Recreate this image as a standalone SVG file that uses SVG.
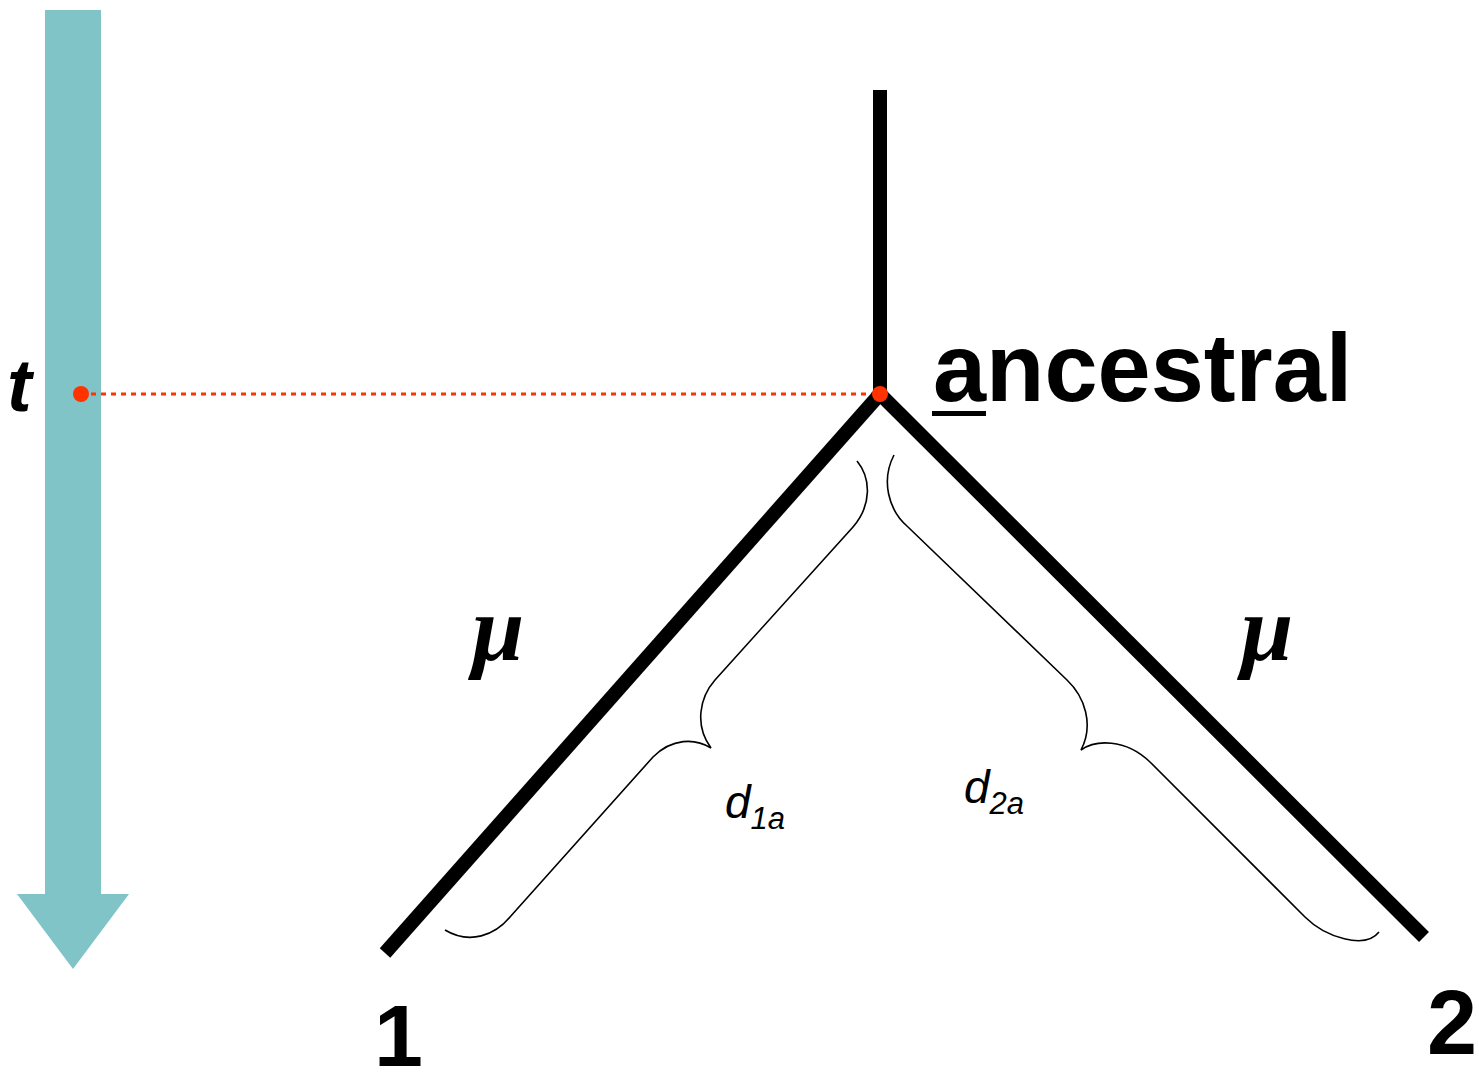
<svg xmlns="http://www.w3.org/2000/svg" width="1479" height="1078" viewBox="0 0 1479 1078">
<style>
.branch{stroke:#000;stroke-width:14;fill:none}
.brace{stroke:#000;stroke-width:1.6;fill:none}
.b{font-family:"Liberation Sans",Arial,sans-serif;font-weight:bold;fill:#000}
.i{font-family:"Liberation Sans",Arial,sans-serif;font-style:italic;fill:#000}
.mu{font-family:"Liberation Serif",serif;font-weight:bold;font-style:italic;font-size:94px;fill:#000}
</style>
<rect width="1479" height="1078" fill="#fff"/>
<g id="time-arrow">
<polygon points="45,10 101,10 101,894 129,894 73,969 17,894 45,894" fill="#80C4C8"/>
<text class="b" x="7" y="411" font-size="74" font-style="italic">t</text>
</g>
<g id="connectors">
<line x1="81" y1="394" x2="880" y2="394" stroke="#FF3300" stroke-width="3" stroke-dasharray="5,5"/>
<line class="branch" x1="880" y1="90" x2="880" y2="396" stroke-width="13"/>
<line class="branch" x1="880" y1="394" x2="385" y2="953"/>
<line class="branch" x1="880" y1="394" x2="1424" y2="937"/>
<path class="brace" d="M857,461 C871,478 872,505 853,527 L715,680 C700,697 694,725 711,748 C695,738 672,738 653,757 L510,917 C495,935 470,945 445,930"/>
<path class="brace" d="M894,455 C881,480 888,510 908,527 L1067,680 C1085,697 1094,725 1081,750 C1095,740 1125,738 1150,762 L1305,917 C1325,937 1365,950 1379,932"/>
</g>
<g id="node-ancestral">
<circle cx="880" cy="394" r="8" fill="#FF3300"/>
<circle cx="81" cy="394" r="8" fill="#FF3300"/>
<text class="b" x="933" y="401" font-size="95.5">ancestral</text>
<rect x="932" y="411" width="54" height="5" fill="#000"/>
</g>
<g id="label-mu-left"><text class="mu" x="472" y="660">μ</text></g>
<g id="label-mu-right"><text class="mu" x="1241" y="660">μ</text></g>
<g id="label-d1a"><text class="i" x="725" y="818" font-size="46">d<tspan font-size="31" dy="11">1a</tspan></text></g>
<g id="label-d2a"><text class="i" x="964" y="803" font-size="46">d<tspan font-size="31" dy="11">2a</tspan></text></g>
<g id="node-1"><text class="b" x="374" y="1066" font-size="88">1</text></g>
<g id="node-2"><text class="b" x="1427" y="1054" font-size="90">2</text></g>
</svg>
